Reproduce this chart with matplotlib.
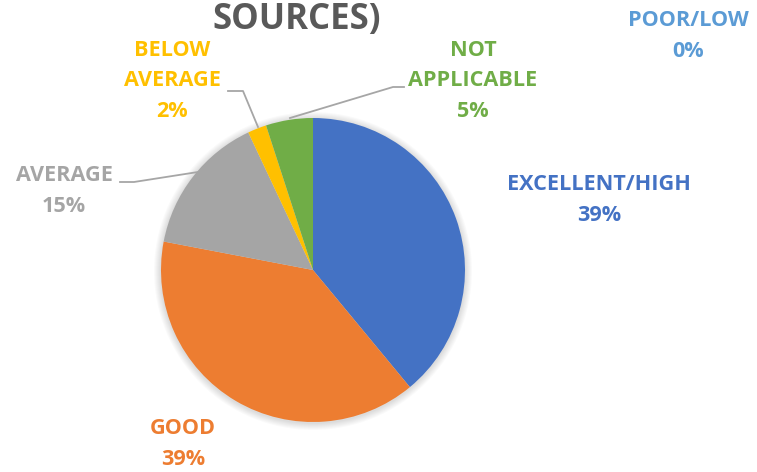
import matplotlib
matplotlib.use("Agg")
import matplotlib.pyplot as plt
from matplotlib.patches import Circle

categories = ["EXCELLENT/HIGH", "GOOD", "AVERAGE", "BELOW\nAVERAGE", "NOT\nAPPLICABLE", "POOR/LOW"]
values = [39, 39, 15, 2, 5, 0]
colors = ["#4472C4", "#ED7D31", "#A5A5A5", "#FFC000", "#70AD47", "#5B9BD5"]
title = "SOURCES)"

W, H = 757, 472
fig = plt.figure(figsize=(W / 100, H / 100), dpi=100)
ax = fig.add_axes([0, 0, 1, 1])

cx, cy, r = 313, H - 270, 152

# soft shadow around the pie
for i in range(7):
    ax.add_patch(Circle((cx, cy - 1), r + 1 + i * 1.0, color="black",
                        alpha=0.02, lw=0, zorder=0))

ax.pie(values, colors=colors, startangle=90, counterclock=False,
       center=(cx, cy), radius=r, wedgeprops=dict(linewidth=0),
       normalize=True)

ax.set_xlim(0, W)
ax.set_ylim(0, H)
ax.set_aspect("equal")
ax.axis("off")

font = dict(family=["Open Sans", "DejaVu Sans"], fontweight="bold")
fs = 15.6

# label positions (x, y of label block centre) in pixel space
label_pos = [(599, 200), (183, 444), (64, 191), (172, 81), (473, 81), (688, 36)]
for name, val, col, (lx, ly) in zip(categories, values, colors, label_pos):
    ax.text(lx, H - ly, f"{name}\n{val}%", color=col, ha="center", va="center",
            fontsize=fs, linespacing=1.6, **font)

# leader lines
leaders = [
    [(120, 182), (134, 182), (198, 172)],
    [(228, 91), (243, 91), (258, 127)],
    [(404, 87), (393, 87), (290, 118)],
]
for pts in leaders:
    xs = [p[0] for p in pts]
    ys = [H - p[1] for p in pts]
    ax.plot(xs, ys, color="#A6A6A6", lw=1.3, zorder=5)

ax.text(297, H - 20, title, color="#595959", ha="center", va="center",
        fontsize=25, **font)

fig.savefig("out.png", dpi=100)
